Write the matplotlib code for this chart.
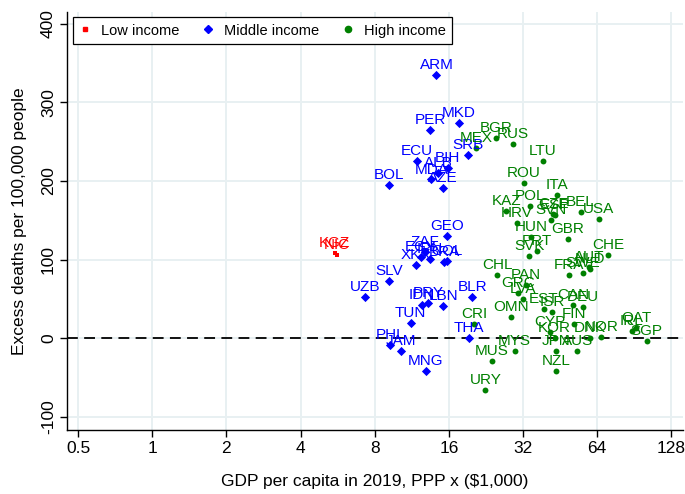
import matplotlib
matplotlib.use("Agg")
import matplotlib.pyplot as plt
from matplotlib.lines import Line2D

plt.rcParams['font.family'] = ['Liberation Sans', 'DejaVu Sans']

# ---- data (GDP per capita, PPP x $1,000 ; excess deaths per 100,000) ----
low_codes = ["KGZ", "NIC"]
low_gdp = [5.51, 5.6]
low_excess = [108, 106]

mid_codes = ["ARM", "MKD", "PER", "SRB", "BIH", "ECU", "ALB", "MDA", "AZE", "BOL",
             "GEO", "ZAF", "EGY", "XKX", "IRN", "BRA", "COL", "SLV", "UZB", "PRY",
             "IDN", "LBN", "BLR", "TUN", "THA", "PHL", "JAM", "MNG"]
mid_gdp = [14.25, 17.6, 13.4, 19.1, 15.8, 11.9, 14.5, 13.6, 15.1, 9.1,
           15.7, 12.8, 12.3, 11.8, 13.4, 15.3, 15.7, 9.17, 7.3, 13.2,
           12.4, 15.2, 19.9, 11.2, 19.3, 9.26, 10.2, 12.9]
mid_excess = [335, 274, 265, 233, 217, 225, 210, 202, 191, 195,
              130, 110, 104, 93, 101, 97, 98, 73, 52.5, 45,
              42, 41, 52, 20, 1, -9, -16, -41]

high_codes = ["MEX", "BGR", "RUS", "LTU", "ROU", "ITA", "POL", "KAZ", "HRV", "CZE",
              "ESP", "SVN", "BEL", "USA", "HUN", "PRT", "SVK", "GBR", "CHE", "AUT",
              "NLD", "SWE", "FRA", "CHL", "PAN", "GRC", "LVA", "OMN", "EST", "ISR",
              "CAN", "DEU", "FIN", "CYP", "KOR", "DNK", "NOR", "JPN", "AUS", "MYS",
              "NZL", "IRL", "QAT", "SGP", "CRI", "MUS", "URY"]
high_gdp = [20.6, 24.8, 29.2, 38.4, 32.2, 44.0, 34.3, 27.4, 30.1, 42.4,
            43.2, 41.7, 54.8, 64.9, 34.4, 36.5, 33.9, 48.5, 70.9, 59.3,
            59.6, 55.8, 49.2, 25.1, 32.8, 30.6, 32.0, 28.5, 38.9, 42.0,
            51.1, 56.1, 51.4, 41.1, 43.0, 59.7, 66.6, 43.5, 53.2, 29.6,
            43.7, 88.2, 92.3, 101.5, 20.3, 23.9, 22.5]
high_excess = [242, 255, 247, 226, 197, 182, 168, 162, 147, 158,
               157, 151, 161, 152, 129, 111, 105, 126, 106, 91,
               88, 83, 80, 80, 68, 58, 50, 27.5, 37, 33,
               42, 40, 18, 8, 1, 0, 2, -16, -16, -16,
               -42, 9, 13, -4, 18, -29, -66]

x_ticks = [0.5, 1, 2, 4, 8, 16, 32, 64, 128]
x_ticklabels = ["0.5", "1", "2", "4", "8", "16", "32", "64", "128"]
y_ticks = [-100, 0, 100, 200, 300, 400]

RED = "#ff0000"
BLUE = "#0000ff"
GREEN = "#008000"
GRID = "#e8f0f2"

fig = plt.figure(figsize=(6.85, 4.94), dpi=100)
ax = fig.add_axes([0.0978, 0.1296, 0.899, 0.8461])

ax.set_xscale('log', base=2)
ax.set_xlim(0.451, 142.4)
ax.set_ylim(-116.6, 415)

ax.set_xticks(x_ticks)
ax.set_xticklabels(x_ticklabels)
ax.minorticks_off()
ax.set_yticks(y_ticks)
ax.set_yticklabels([str(v) for v in y_ticks], rotation=90, va='center')

ax.grid(True, color=GRID, linewidth=1.4, zorder=0)
ax.set_axisbelow(True)

for s in ['top', 'right']:
    ax.spines[s].set_visible(False)
for s in ['left', 'bottom']:
    ax.spines[s].set_linewidth(1.0)
    ax.spines[s].set_color('black')

ax.tick_params(axis='both', direction='out', length=5, width=1.0, labelsize=12.5,
               colors='black')
ax.tick_params(axis='x', pad=3)
ax.tick_params(axis='y', pad=3)

ax.axhline(0, color='black', linestyle=(0, (6, 3.5)), linewidth=1.3, zorder=1)

lab_fs = 11

def draw(gdp, exc, codes, color, marker, size):
    ax.scatter(gdp, exc, s=size, marker=marker, color=color, linewidths=0, zorder=3)
    for g, e, c in zip(gdp, exc, codes):
        ax.annotate(c, (g, e), xytext=(0, 4.3), textcoords='offset points',
                    ha='center', va='baseline', color=color, fontsize=lab_fs,
                    zorder=4)

draw(low_gdp, low_excess, low_codes, RED, 's', 6)
draw(mid_gdp, mid_excess, mid_codes, BLUE, 'D', 22)
draw(high_gdp, high_excess, high_codes, GREEN, 'o', 18)

handles = [
    Line2D([], [], linestyle='none', marker='s', color=RED, markersize=2.5),
    Line2D([], [], linestyle='none', marker='D', color=BLUE, markersize=4.5),
    Line2D([], [], linestyle='none', marker='o', color=GREEN, markersize=4.5),
]
leg = ax.legend(handles, ["Low income", "Middle income", "High income"],
                loc='upper left', bbox_to_anchor=(0.0095, 0.988), ncol=3,
                fontsize=10.5, frameon=True, fancybox=False, edgecolor='black',
                framealpha=1, handlelength=0.7, handletextpad=0.75,
                columnspacing=1.63, borderpad=0.45, borderaxespad=0)
leg.get_frame().set_linewidth(0.9)

ax.set_xlabel("GDP per capita in 2019, PPP x ($1,000)", fontsize=12.5, labelpad=13)
ax.set_ylabel("Excess deaths per 100,000 people", fontsize=12.5, labelpad=10)

fig.savefig("out.png", dpi=100)
